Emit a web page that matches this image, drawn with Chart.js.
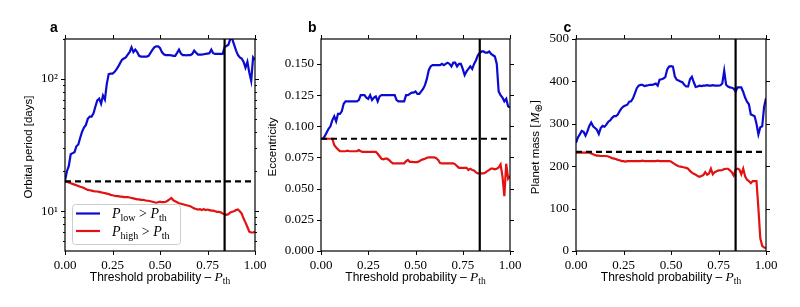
<!DOCTYPE html>
<html>
<head>
<meta charset="utf-8">
<script src="https://cdn.jsdelivr.net/npm/chart.js@4.4.0/dist/chart.umd.min.js"></script>
<style>
body { margin:0; background:#fff; }
#wrap { position:relative; width:800px; height:307px; }
canvas { position:absolute; left:0; top:0; }
</style>
</head>
<body>
<div id="wrap">
	<canvas id="ca" width="800" height="307"></canvas>
	<canvas id="cb" width="800" height="307"></canvas>
	<canvas id="cc" width="800" height="307"></canvas>
</div>
<script>
// threshold probability grid
const thresholds = [0.00,0.01,0.02,0.03,0.04,0.05,0.06,0.07,0.08,0.09,
	0.10,0.11,0.12,0.13,0.14,0.15,0.16,0.17,0.18,0.19,
	0.20,0.21,0.22,0.23,0.24,0.25,0.26,0.27,0.28,0.29,
	0.30,0.31,0.32,0.33,0.34,0.35,0.36,0.37,0.38,0.39,
	0.40,0.41,0.42,0.43,0.44,0.45,0.46,0.47,0.48,0.49,
	0.50,0.51,0.52,0.53,0.54,0.55,0.56,0.57,0.58,0.59,
	0.60,0.61,0.62,0.63,0.64,0.65,0.66,0.67,0.68,0.69,
	0.70,0.71,0.72,0.73,0.74,0.75,0.76,0.77,0.78,0.79,
	0.80,0.81,0.82,0.83,0.84,0.85,0.86,0.87,0.88,0.89,
	0.90,0.91,0.92,0.93,0.94,0.95,0.96,0.97,0.98,0.99,
	1.00];

// a: orbital period [days]
const periodLow = [17,20,22,27,27.5,28,31,32,36,40,
	43,45,50,52,52,55,62,69,71,65,
	75,70,92,109,110,110,113,118,124,132,
	140,143,146,153,160,174,160,167,160,150,
	148,148,148,148,150,158,166,174,177,177,
	172,160,154,152,152,152,151,150,150,158,
	167,156,152,152,151,152,152,155,164,158,
	153,153,153,154,155,156,157,167,157,155,
	155,155,155,155,175,178,182,201,201,182,
	165,152,146,143,135,122,135,112,97,146,
	140];
const periodHigh = [16.8,16.7,16.5,16.3,16.1,15.9,15.7,15.5,15.3,15.2,
	15.0,14.7,14.5,14.4,14.3,14.2,14.1,14.1,14.0,13.9,
	13.8,13.7,13.6,13.5,13.3,13.2,13.1,13.0,13.0,12.9,
	12.9,12.8,12.8,12.8,12.7,12.6,12.5,12.4,12.3,12.3,
	12.2,12.2,12.1,12.0,12.0,11.9,11.8,11.7,11.6,11.7,
	11.8,11.7,11.7,11.8,12.0,12.3,12.6,12.1,11.9,11.7,
	11.5,11.4,11.3,11.2,11.1,11.0,10.9,10.7,10.5,10.4,
	10.3,10.35,10.2,10.4,10.2,10.3,10.2,10.1,10.1,10.0,
	9.9,9.9,9.8,9.6,9.5,9.4,9.5,9.8,9.9,10.0,
	10.2,10.3,10.0,9.6,8.8,8.2,7.6,7.0,6.9,6.9,
	7.0];

// b: eccentricity
const eccLow = [0.090,0.090,0.092,0.095,0.098,0.100,0.105,0.108,0.104,0.110,
	0.110,0.112,0.118,0.120,0.120,0.120,0.120,0.120,0.120,0.120,
	0.121,0.125,0.125,0.125,0.123,0.122,0.125,0.121,0.123,0.124,
	0.120,0.124,0.125,0.125,0.125,0.125,0.125,0.125,0.125,0.125,
	0.121,0.120,0.120,0.120,0.120,0.125,0.125,0.126,0.127,0.127,
	0.128,0.126,0.126,0.128,0.130,0.133,0.138,0.145,0.148,0.149,
	0.149,0.149,0.149,0.149,0.150,0.149,0.150,0.151,0.150,0.148,
	0.151,0.151,0.148,0.150,0.150,0.146,0.141,0.144,0.146,0.148,
	0.146,0.150,0.153,0.157,0.159,0.160,0.160,0.159,0.159,0.160,
	0.158,0.157,0.156,0.150,0.128,0.125,0.123,0.120,0.122,0.116,
	0.115];
const eccHigh = [0.090,0.090,0.090,0.090,0.090,0.090,0.090,0.085,0.083,0.0815,
	0.080,0.080,0.080,0.080,0.0805,0.080,0.080,0.080,0.080,0.080,
	0.081,0.080,0.0795,0.0795,0.0795,0.0795,0.0795,0.0795,0.0795,0.0795,
	0.078,0.076,0.074,0.0735,0.074,0.074,0.073,0.0715,0.0703,0.0703,
	0.0703,0.0703,0.0703,0.0703,0.0703,0.072,0.073,0.0715,0.0715,0.0713,
	0.0713,0.0713,0.072,0.073,0.0735,0.074,0.0748,0.075,0.075,0.075,
	0.075,0.0745,0.073,0.0705,0.0703,0.0703,0.0703,0.0703,0.0703,0.0703,
	0.0703,0.0695,0.068,0.0667,0.0667,0.0667,0.0667,0.0667,0.065,0.066,
	0.065,0.0645,0.063,0.0622,0.0622,0.0622,0.0622,0.063,0.064,0.065,
	0.066,0.066,0.0655,0.066,0.067,0.0695,0.060,0.044,0.070,0.058,
	0.060];

// c: planet mass [M_earth]
const massLow = [255,268,275,283,281,272,282,295,303,294,
	290,286,276,290,295,293,298,305,308,314,
	318,318,322,330,337,341,343,345,352,353,
	360,372,384,390,392,392,389,390,391,392,
	392,393,395,390,404,405,407,410,428,435,
	436,435,412,404,402,400,398,392,388,388,
	405,411,398,387,388,390,389,390,390,391,
	390,390,391,390,390,390,391,395,425,392,
	388,386,385,383,376,386,386,386,375,362,
	352,346,322,320,318,300,275,292,294,340,
	360];
const massHigh = [232,232,232,232,232,232,232,232,230,228,
	226,225,225,224,224,224,224,223,221,219,
	218,217,215,214,212,212,211,212,212,212,
	212,212,212,212,212,213,212,212,212,212,
	212,212,212,213,212,212,212,212,212,212,
	211,208,205,202,200,199,198,197,196,194,
	189,185,182,180,177,175,177,179,186,180,
	183,194,181,186,188,190,190,191,193,194,
	194,190,186,178,192,194,192,181,194,176,
	168,165,160,165,165,165,100,30,12,8,
	7];

// reference values (dashed) and chosen threshold (vertical)
const refPeriod = 16.8, refEcc = 0.09, refMass = 234;
const chosenTh = 0.84;

// tick labels
const xTicks = [0, 0.25, 0.5, 0.75, 1];
const periodTicks = [10, 100];
const periodMinor = [6,7,8,9,20,30,40,50,60,70,80,90,200];
const eccTicks = [0, 0.025, 0.05, 0.075, 0.1, 0.125, 0.15];
const massTicks = [0, 100, 200, 300, 400, 500];

const BLUE = '#0b0bd0', RED = '#e21212';
const SANS = 'Liberation Sans', SERIF = 'Liberation Serif';
const LW = 2.2;

const pts = (xs, ys) => xs.map((x, i) => ({x: x, y: ys[i]}));

// draw text made of runs: [text, font, dy]
const rich = (ctx, parts, x, y) => {
	let w = 0;
	parts.forEach(p => { ctx.font = p[1]; w += ctx.measureText(p[0]).width; });
	let cx = x - w / 2;
	parts.forEach(p => {
		ctx.font = p[1];
		ctx.fillText(p[0], cx, y + (p[2] || 0));
		cx += ctx.measureText(p[0]).width;
	});
};

const xTitle = [
	['Threshold probability \u2013 ', '12px ' + SANS],
	['P', 'italic 13.5px ' + SERIF],
	['th', '9.5px ' + SERIF, 3],
];

const decor = p => ({
	id: 'decor',
	afterDraw(chart) {
		const ctx = chart.ctx, a = chart.chartArea, sx = chart.scales.x, sy = chart.scales.y;
		ctx.save();
		ctx.strokeStyle = '#000';
		ctx.fillStyle = '#000';
		ctx.lineWidth = 1;
		const line = (x1, y1, x2, y2) => { ctx.beginPath(); ctx.moveTo(x1, y1); ctx.lineTo(x2, y2); ctx.stroke(); };
		xTicks.forEach(v => {
			const px = Math.round(sx.getPixelForValue(v)) + 0.5;
			line(px, a.bottom, px, a.bottom + 4);
			line(px, a.top, px, a.top - 4);
		});
		p.major.forEach(v => {
			const py = Math.round(sy.getPixelForValue(v)) + 0.5;
			line(a.left - 4, py, a.left, py);
			line(a.right, py, a.right + 4, py);
		});
		(p.minor || []).forEach(v => {
			const py = Math.round(sy.getPixelForValue(v)) + 0.5;
			line(a.left - 2, py, a.left, py);
			line(a.right, py, a.right + 2, py);
		});
		ctx.lineWidth = 1.2;
		ctx.strokeRect(a.left, a.top, a.right - a.left, a.bottom - a.top);

		// panel letter
		ctx.textBaseline = 'alphabetic';
		ctx.textAlign = 'left';
		ctx.font = 'bold 14px ' + SANS;
		ctx.fillText(p.letter, p.letterX, 32);

		// x title
		rich(ctx, xTitle, (a.left + a.right) / 2, 281);

		// y title, rotated
		ctx.save();
		ctx.translate(p.yTitleX, (a.top + a.bottom) / 2 + 2);
		ctx.rotate(-Math.PI / 2);
		rich(ctx, p.yTitle, 0, 0);
		ctx.restore();

		// legend (panel a only)
		if (p.legend) {
			ctx.beginPath();
			ctx.roundRect(72.5, 204.5, 108, 40, 3);
			ctx.fillStyle = 'rgba(255,255,255,0.8)';
			ctx.fill();
			ctx.strokeStyle = '#cccccc';
			ctx.lineWidth = 1;
			ctx.stroke();
			const rows = [[BLUE, 'low', 213.5], [RED, 'high', 231]];
			rows.forEach(r => {
				ctx.strokeStyle = r[0];
				ctx.lineWidth = LW;
				line(76, r[2], 100, r[2]);
				ctx.fillStyle = '#000';
				let cx = 112;
				[['P', 'italic 14px ' + SERIF, 0], [r[1], '10px ' + SERIF, 3], [' > ', '14px ' + SERIF, 0],
				 ['P', 'italic 14px ' + SERIF, 0], ['th', '10px ' + SERIF, 3]].forEach(t => {
					ctx.font = t[1];
					ctx.fillText(t[0], cx, r[2] + 4.5 + t[2]);
					cx += ctx.measureText(t[0]).width;
				});
			});
		}
		ctx.restore();
	}
});

const tickFont = {family: SERIF, size: 13};

const panel = (id, s) => new Chart(document.getElementById(id), {
	type: 'line',
	data: {
		datasets: [
			{data: [{x: chosenTh, y: s.min}, {x: chosenTh, y: s.max}], borderColor: '#000', borderWidth: LW},
			{data: [{x: 0, y: s.ref}, {x: 1, y: s.ref}], borderColor: '#000', borderWidth: LW, borderDash: [6, 4]},
			{data: pts(thresholds, s.high), borderColor: RED, borderWidth: LW},
			{data: pts(thresholds, s.low), borderColor: BLUE, borderWidth: LW},
		]
	},
	options: {
		responsive: false,
		animation: false,
		events: [],
		elements: { point: { radius: 0 }, line: { tension: 0, fill: false } },
		layout: { padding: { left: s.left - 60, right: 800 - s.right, top: 39, bottom: 0 } },
		plugins: { legend: { display: false }, tooltip: { enabled: false } },
		scales: {
			x: {
				type: 'linear', min: 0, max: 1,
				afterBuildTicks: sc => { sc.ticks = xTicks.map(v => ({value: v})) },
				afterFit: sc => { sc.height = 56 },
				grid: { display: false, drawTicks: false },
				border: { display: false },
				ticks: { font: tickFont, color: '#000', padding: 7, maxRotation: 0, autoSkip: false,
					callback: v => v.toFixed(2) },
			},
			y: {
				type: s.type, min: s.min, max: s.max,
				afterBuildTicks: sc => { sc.ticks = s.major.map(v => ({value: v})) },
				afterFit: sc => { sc.width = 60 },
				grid: { display: false, drawTicks: false },
				border: { display: false },
				ticks: { font: tickFont, color: '#000', padding: 7, autoSkip: false, callback: s.fmt },
			}
		}
	},
	plugins: [decor(s)]
});

panel('ca', {
	left: 65, right: 255, type: 'logarithmic', min: 5, max: 201,
	low: periodLow, high: periodHigh, ref: refPeriod,
	major: periodTicks, minor: periodMinor,
	fmt: v => v === 10 ? '10\u00b9' : v === 100 ? '10\u00b2' : '',
	letter: 'a', letterX: 50, yTitleX: 31.5, legend: true,
	yTitle: [['Orbital period [days]', '11.5px ' + SANS]],
});
panel('cb', {
	left: 321, right: 510, type: 'linear', min: 0, max: 0.17,
	low: eccLow, high: eccHigh, ref: refEcc,
	major: eccTicks,
	fmt: v => v.toFixed(3),
	letter: 'b', letterX: 308, yTitleX: 276,
	yTitle: [['Eccentricity', '11.5px ' + SANS]],
});
panel('cc', {
	left: 576, right: 766, type: 'linear', min: 0, max: 500,
	low: massLow, high: massHigh, ref: refMass,
	major: massTicks,
	fmt: v => String(v),
	letter: 'c', letterX: 563.5, yTitleX: 538.5,
	yTitle: [['Planet mass ', '11.5px ' + SANS], ['[', '13px ' + SERIF], ['M', 'italic 13px ' + SERIF],
		['\u2295', '10px DejaVu Sans', 3], [']', '13px ' + SERIF]],
});
</script>
</body>
</html>
